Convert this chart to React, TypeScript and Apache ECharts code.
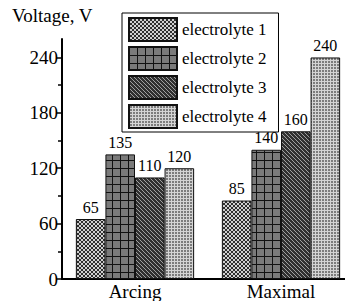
import React, { useEffect, useRef } from "react";
import * as echarts from "echarts";

const categories = ["Arcing", "Maximal"];
const seriesNames = ["electrolyte 1", "electrolyte 2", "electrolyte 3", "electrolyte 4"];
const electrolyte1 = [65, 85];
const electrolyte2 = [135, 140];
const electrolyte3 = [110, 160];
const electrolyte4 = [120, 240];
const yLabelValues = [0, 60, 120, 180, 240];
const yMajorTicks = [0, 60, 120, 180, 240];
const yMinorTicks = [30, 90, 150, 210];

const FONT = "Liberation Serif, Times New Roman, serif";

function makePattern(size: number, bg: string, draw: (ctx: CanvasRenderingContext2D) => void) {
  const c = document.createElement("canvas");
  c.width = size;
  c.height = size;
  const ctx = c.getContext("2d") as CanvasRenderingContext2D;
  ctx.fillStyle = bg;
  ctx.fillRect(0, 0, size, size);
  draw(ctx);
  return { image: c, repeat: "repeat", imageWidth: size, imageHeight: size } as any;
}

export default function App() {
  const ref = useRef<HTMLDivElement>(null);
  useEffect(() => {
    if (!ref.current) return;
    const chart = echarts.init(ref.current, undefined, { renderer: "svg" });

    const p1 = makePattern(4, "#d0d0d0", (ctx) => {
      ctx.fillStyle = "#2e2e2e";
      for (let i = 0; i < 4; i++) {
        ctx.fillRect(i, i, 1, 1);
        ctx.fillRect(3 - i, i, 1, 1);
      }
    });
    const p2 = makePattern(8, "#7a7a7a", (ctx) => {
      ctx.fillStyle = "#111111";
      ctx.fillRect(0, 0, 8, 1);
      ctx.fillRect(0, 0, 1, 8);
    });
    const p3 = makePattern(4, "#303030", (ctx) => {
      ctx.fillStyle = "#a0a0a0";
      for (let i = 0; i < 4; i++) ctx.fillRect(i, i, 1, 1);
    });
    const p4 = makePattern(3, "#7c7c7c", (ctx) => {
      ctx.fillStyle = "#d4d4d4";
      ctx.fillRect(0, 0, 3, 1);
      ctx.fillRect(0, 0, 1, 3);
    });
    const patterns = [p1, p2, p3, p4];
    const datas = [electrolyte1, electrolyte2, electrolyte3, electrolyte4];

    chart.setOption({
      animation: false,
      backgroundColor: "#fff",
      textStyle: { fontFamily: FONT },
      grid: { left: 62, right: -9, top: 39, bottom: 22, containLabel: false, outerBoundsMode: "none" },
      legend: {
        orient: "vertical",
        left: 122,
        top: 13,
        padding: [4, 12, 3, 6],
        itemWidth: 48,
        itemHeight: 23,
        itemGap: 4,
        icon: "rect",
        backgroundColor: "#fff",
        borderColor: "#000",
        borderWidth: 1,
        borderRadius: 0,
        textStyle: { fontFamily: FONT, fontSize: 17, color: "#000" },
        data: seriesNames,
      },
      graphic: [
        {
          type: "text",
          left: 12,
          top: 6,
          style: { text: "Voltage, V", fontFamily: FONT, fontSize: 19, fill: "#000" },
        },
      ],
      xAxis: {
        type: "category",
        data: categories,
        axisLine: { lineStyle: { color: "#000", width: 2 } },
        axisTick: { show: false },
        axisLabel: { color: "#000", fontFamily: FONT, fontSize: 19, margin: 3, lineHeight: 19 },
      },
      yAxis: [
        {
          type: "value",
          min: 0,
          max: 260,
          interval: 30,
          splitLine: { show: false },
          axisLine: { show: true, lineStyle: { color: "#000", width: 2 } },
          axisTick: { show: true, length: 6, customValues: yMajorTicks, lineStyle: { color: "#000", width: 1.5 } },
          axisLabel: { color: "#000", fontFamily: FONT, fontSize: 19, margin: 4, customValues: yLabelValues },
        },
        {
          type: "value",
          min: 0,
          max: 260,
          interval: 30,
          position: "left",
          splitLine: { show: false },
          axisLine: { show: false },
          axisTick: { show: true, length: 4, customValues: yMinorTicks, lineStyle: { color: "#000", width: 1.5 } },
          axisLabel: { show: false },
        },
      ],
      series: seriesNames.map((name, i) => ({
        name,
        type: "bar",
        data: datas[i],
        barGap: "0%",
        barCategoryGap: "19%",
        itemStyle: { color: patterns[i], borderColor: "#111", borderWidth: 1 },
        label: {
          show: true,
          position: "top",
          distance: 4,
          color: "#000",
          fontFamily: FONT,
          fontSize: 16,
        },
      })),
    });
    return () => chart.dispose();
  }, []);
  return (
    <div
      ref={ref}
      style={{ position: "fixed", left: 0, top: 0, width: 345, height: 301, background: "#fff" }}
    />
  );
}
